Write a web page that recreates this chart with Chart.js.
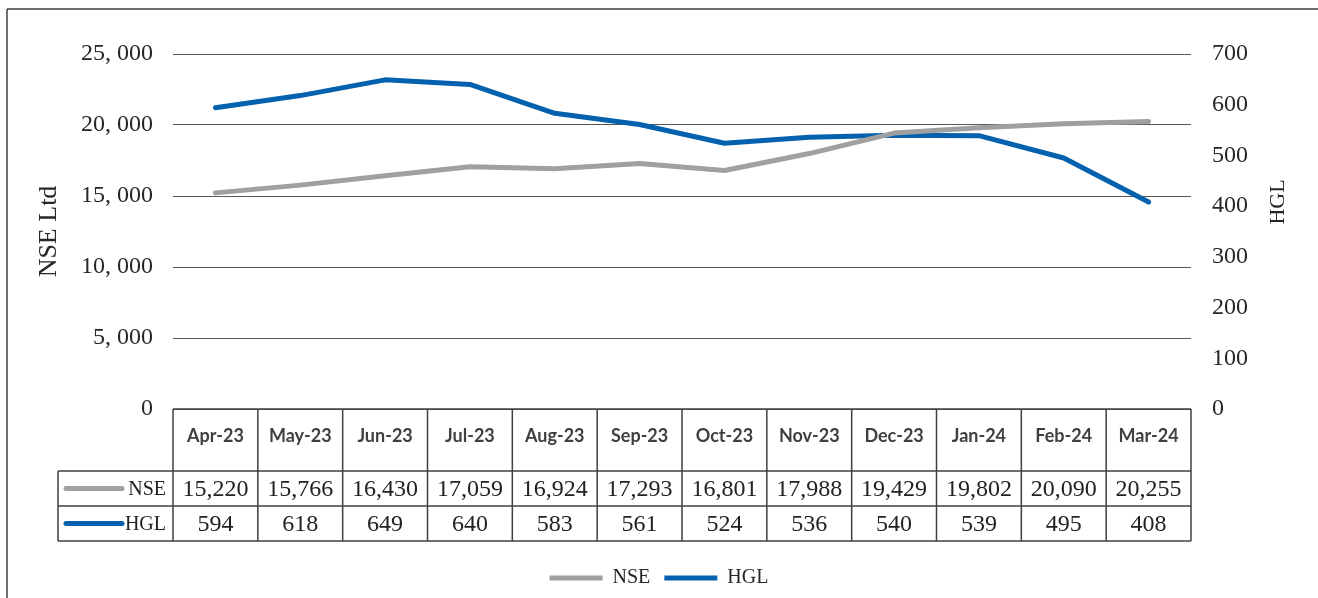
<!DOCTYPE html>
<html>
<head>
<meta charset="utf-8">
<script src="https://cdn.jsdelivr.net/npm/chart.js@4.4.0/dist/chart.umd.min.js"></script>
<style>
  html, body { margin: 0; padding: 0; background: #fff; }
  canvas { display: block; }
</style>
</head>
<body>
<canvas id="chart" width="1318" height="598"></canvas>
<script>
const months = ['Apr-23', 'May-23', 'Jun-23', 'Jul-23', 'Aug-23', 'Sep-23', 'Oct-23', 'Nov-23', 'Dec-23', 'Jan-24', 'Feb-24', 'Mar-24'];
const nseValues = [15220, 15766, 16430, 17059, 16924, 17293, 16801, 17988, 19429, 19802, 20090, 20255];
const hglValues = [594, 618, 649, 640, 583, 561, 524, 536, 540, 539, 495, 408];

const GRAY = '#a0a0a0';
const BLUE = '#0461ad';
const SERIF = '"Liberation Serif", "DejaVu Serif", serif';

// data table under the plot, Excel style
const tablePlugin = {
  id: 'dataTable',
  beforeDraw(chart) {
    const ctx = chart.ctx;
    ctx.save();
    ctx.strokeStyle = '#404040';
    ctx.lineWidth = 1.5;
    ctx.beginPath();
    ctx.moveTo(7, 9); ctx.lineTo(1318, 9);
    ctx.moveTo(7, 9); ctx.lineTo(7, 598);
    ctx.stroke();
    ctx.restore();
  },
  afterDraw(chart) {
    const ctx = chart.ctx;
    const area = chart.chartArea;
    const x = chart.scales.x;
    const colW = (area.right - area.left) / months.length;
    const top = area.bottom;
    const headBottom = top + 62;
    const row1 = headBottom + 35;
    const row2 = row1 + 35;
    const legLeft = 58;

    ctx.save();
    ctx.strokeStyle = '#404040';
    ctx.lineWidth = 1.5;
    ctx.beginPath();
    ctx.moveTo(area.left, top); ctx.lineTo(area.right, top);
    [headBottom, row1, row2].forEach(y => { ctx.moveTo(legLeft, y); ctx.lineTo(area.right, y); });
    for (let i = 0; i <= months.length; i++) {
      const cx = area.left + i * colW;
      ctx.moveTo(cx, top); ctx.lineTo(cx, row2);
    }
    ctx.moveTo(legLeft, headBottom); ctx.lineTo(legLeft, row2);
    ctx.stroke();

    ctx.textAlign = 'center';
    ctx.textBaseline = 'middle';
    months.forEach((m, i) => {
      const cx = x.getPixelForValue(i);
      ctx.fillStyle = '#404040';
      ctx.font = 'bold 18px Lato, sans-serif';
      ctx.fillText(m, cx, top + 27);
      ctx.fillStyle = '#222';
      ctx.font = '24px ' + SERIF;
      ctx.fillText(nseValues[i].toLocaleString('en-US'), cx, (headBottom + row1) / 2 + 1);
      ctx.fillText(hglValues[i].toLocaleString('en-US'), cx, (row1 + row2) / 2 + 1);
    });

    // series keys in the first column
    const keys = [['NSE', GRAY, (headBottom + row1) / 2], ['HGL', BLUE, (row1 + row2) / 2]];
    keys.forEach(([name, color, y]) => {
      ctx.strokeStyle = color;
      ctx.lineWidth = 5;
      ctx.lineCap = 'round';
      ctx.beginPath();
      ctx.moveTo(66, y); ctx.lineTo(122, y);
      ctx.stroke();
      ctx.fillStyle = '#222';
      ctx.font = '20px ' + SERIF;
      ctx.textAlign = 'right';
      ctx.fillText(name, area.left - 7, y + 1);
    });

    // right axis title, reading upwards
    ctx.translate(1278, 202);
    ctx.rotate(-Math.PI / 2);
    ctx.textAlign = 'center';
    ctx.fillStyle = '#262626';
    ctx.font = '22px ' + SERIF;
    ctx.fillText('HGL', 0, 0);
    ctx.restore();
  }
};

new Chart(document.getElementById('chart'), {
  type: 'line',
  data: {
    labels: months,
    datasets: [
      {
        label: 'NSE',
        data: nseValues,
        yAxisID: 'y',
        borderColor: GRAY,
        backgroundColor: GRAY,
        borderWidth: 5,
        borderCapStyle: 'round',
        borderJoinStyle: 'round',
        pointRadius: 0,
        tension: 0,
      },
      {
        label: 'HGL',
        data: hglValues,
        yAxisID: 'y1',
        borderColor: BLUE,
        backgroundColor: BLUE,
        borderWidth: 5,
        borderCapStyle: 'round',
        borderJoinStyle: 'round',
        pointRadius: 0,
        tension: 0,
      },
    ],
  },
  options: {
    responsive: false,
    animation: false,
    layout: { padding: { top: 54, left: 0, right: 0, bottom: 0 } },
    plugins: {
      tooltip: { enabled: false },
      legend: {
        position: 'bottom',
        labels: {
          usePointStyle: true,
          pointStyle: 'line',
          pointStyleWidth: 53,
          padding: 14,
          color: '#262626',
          font: { family: SERIF, size: 20 },
        },
      },
    },
    scales: {
      x: {
        offset: true,
        grid: { display: false },
        border: { display: false },
        ticks: { display: false },
        afterFit(axis) { axis.height = 145; },
      },
      y: {
        position: 'left',
        min: 0,
        max: 25000,
        ticks: {
          stepSize: 5000,
          padding: 20,
          color: '#262626',
          font: { family: SERIF, size: 24 },
          callback: v => v.toLocaleString('en-US').replace(',', ', '),
        },
        grid: { color: '#595959', lineWidth: 1, drawTicks: false },
        border: { display: false },
        title: {
          display: true,
          text: 'NSE Ltd',
          color: '#262626',
          font: { family: SERIF, size: 26 },
          padding: { top: 34, bottom: 0 },
        },
        afterFit(axis) { axis.width = 173; },
      },
      y1: {
        position: 'right',
        min: 0,
        max: 700,
        ticks: {
          stepSize: 100,
          padding: 21,
          color: '#262626',
          font: { family: SERIF, size: 24 },
        },
        grid: { display: false, drawTicks: false },
        border: { display: false },
        afterFit(axis) { axis.width = 127; },
      },
    },
  },
  plugins: [tablePlugin],
});
</script>
</body>
</html>
